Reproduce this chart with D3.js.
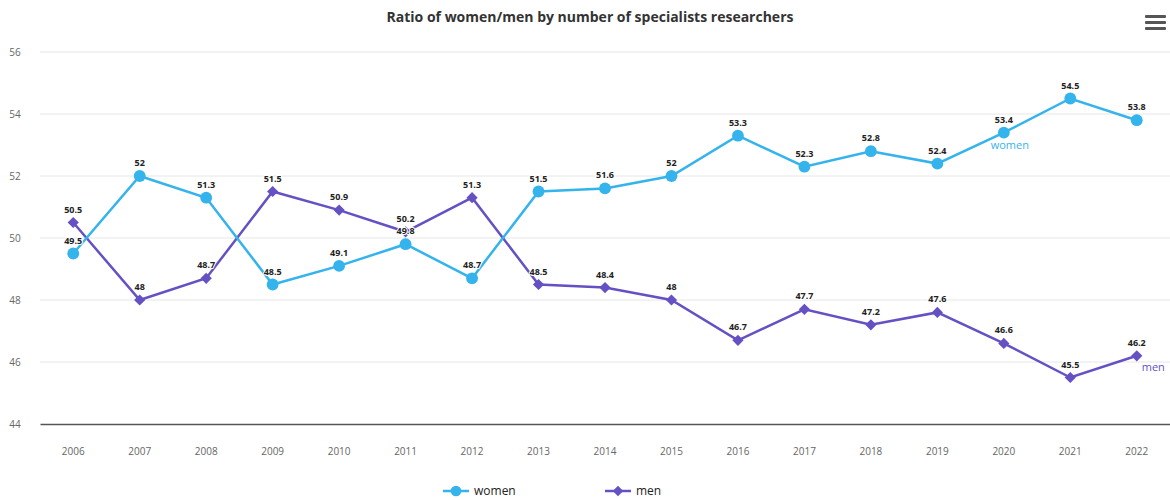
<!DOCTYPE html>
<html>
<head>
<meta charset="utf-8">
<script src="https://cdn.jsdelivr.net/npm/d3@7"></script>
<style>
  body { margin: 0; background: #fff; font-family: "Open Sans", "DejaVu Sans", sans-serif; }
</style>
</head>
<body>
<div id="chart"></div>
<script>
var years = ["2006","2007","2008","2009","2010","2011","2012","2013","2014","2015","2016","2017","2018","2019","2020","2021","2022"];
var women = [49.5, 52, 51.3, 48.5, 49.1, 49.8, 48.7, 51.5, 51.6, 52, 53.3, 52.3, 52.8, 52.4, 53.4, 54.5, 53.8];
var men = [50.5, 48, 48.7, 51.5, 50.9, 50.2, 51.3, 48.5, 48.4, 48, 46.7, 47.7, 47.2, 47.6, 46.6, 45.5, 46.2];
var yTicks = [44, 46, 48, 50, 52, 54, 56];
var titleText = "Ratio of women/men by number of specialists researchers";

var WIDTH = 1170, HEIGHT = 500;
var plotLeft = 40, plotRight = 1170, plotTop = 52, plotBottom = 424;
var womenColor = "#35b3ec", menColor = "#6550c4";

var svg = d3.select("#chart").append("svg")
    .attr("width", WIDTH)
    .attr("height", HEIGHT);

var x = d3.scaleBand().domain(years).range([plotLeft, plotRight]);
var y = d3.scaleLinear().domain([44, 56]).range([plotBottom, plotTop]);

// title
svg.append("text")
    .attr("x", 590).attr("y", 22)
    .attr("text-anchor", "middle")
    .style("font-size", "14px").style("font-weight", "bold")
    .style("fill", "#333")
    .text(titleText);

// menu icon
[0, 6, 12].forEach(function (d) {
    svg.append("rect")
        .attr("x", 1145).attr("y", 15 + d)
        .attr("width", 21).attr("height", 3)
        .attr("rx", 1)
        .attr("fill", "#555");
});

// grid
svg.append("g").selectAll("line")
    .data(yTicks.slice(1)).enter().append("line")
    .attr("x1", plotLeft).attr("x2", plotRight)
    .attr("y1", function (d) { return y(d); })
    .attr("y2", function (d) { return y(d); })
    .attr("stroke", "#e6e6e6").attr("stroke-width", 1);

// y labels
svg.append("g").selectAll("text")
    .data(yTicks).enter().append("text")
    .attr("x", 15).attr("y", function (d) { return y(d) + 4; })
    .attr("text-anchor", "middle")
    .style("font-size", "10px").style("fill", "#666")
    .text(function (d) { return d; });

// x axis
var xAxis = svg.append("g")
    .attr("transform", "translate(0," + plotBottom + ")")
    .call(d3.axisBottom(x).tickSize(0).tickPadding(24));
xAxis.select(".domain").attr("stroke", "#555").attr("stroke-width", 1.5);
xAxis.selectAll("text").style("font-size", "10px").style("fill", "#666")
    .style("font-family", "\"Open Sans\", sans-serif");

var cx = function (d, i) { return x(years[i]) + x.bandwidth() / 2; };

var line = d3.line()
    .x(function (d, i) { return cx(d, i); })
    .y(function (d) { return y(d); });

var diamond = d3.symbolDiamond2 || d3.symbolDiamond;

var seriesLayer = svg.append("g");
var labelLayer = svg.append("g");

function drawSeries(data, color, shape) {
    var g = seriesLayer.append("g");
    g.append("path")
        .datum(data)
        .attr("d", line)
        .attr("fill", "none")
        .attr("stroke", color)
        .attr("stroke-width", 2.5);
    g.selectAll("path.pt")
        .data(data).enter().append("path")
        .attr("class", "pt")
        .attr("d", d3.symbol().type(shape).size(shape === d3.symbolCircle ? 110 : 80))
        .attr("transform", function (d, i) { return "translate(" + cx(d, i) + "," + y(d) + ")"; })
        .attr("fill", color);
    labelLayer.append("g").selectAll("text")
        .data(data).enter().append("text")
        .attr("x", function (d, i) { return cx(d, i); })
        .attr("y", function (d) { return y(d) - 10; })
        .attr("text-anchor", "middle")
        .style("font-size", "9px").style("font-weight", "bold")
        .style("fill", "#222")
        .style("paint-order", "stroke")
        .style("stroke", "#fff").style("stroke-width", 2)
        .text(function (d) { return d; });
}

drawSeries(men, menColor, diamond);
drawSeries(women, womenColor, d3.symbolCircle);

// series end labels
svg.append("text")
    .attr("x", cx(null, 14) + 6).attr("y", y(women[14]) + 16)
    .attr("text-anchor", "middle")
    .style("font-size", "11px").style("fill", womenColor)
    .text("women");
svg.append("text")
    .attr("x", cx(null, 16) + 5).attr("y", y(men[16]) + 15)
    .style("font-size", "11px").style("fill", menColor)
    .text("men");

// legend
var legend = [
    { name: "women", color: womenColor, shape: d3.symbolCircle, x: 443 },
    { name: "men", color: menColor, shape: diamond, x: 605 }
];
var lg = svg.append("g").selectAll("g")
    .data(legend).enter().append("g")
    .attr("transform", function (d) { return "translate(" + d.x + ",491)"; });
lg.append("line")
    .attr("x1", 0).attr("x2", 26)
    .attr("stroke", function (d) { return d.color; })
    .attr("stroke-width", 2.5);
lg.append("path")
    .attr("d", function (d) { return d3.symbol().type(d.shape).size(d.shape === d3.symbolCircle ? 90 : 70)(); })
    .attr("transform", "translate(13,0)")
    .attr("fill", function (d) { return d.color; });
lg.append("text")
    .attr("x", 31).attr("y", 4)
    .style("font-size", "12px").style("fill", "#222")
    .text(function (d) { return d.name; });
</script>
</body>
</html>
